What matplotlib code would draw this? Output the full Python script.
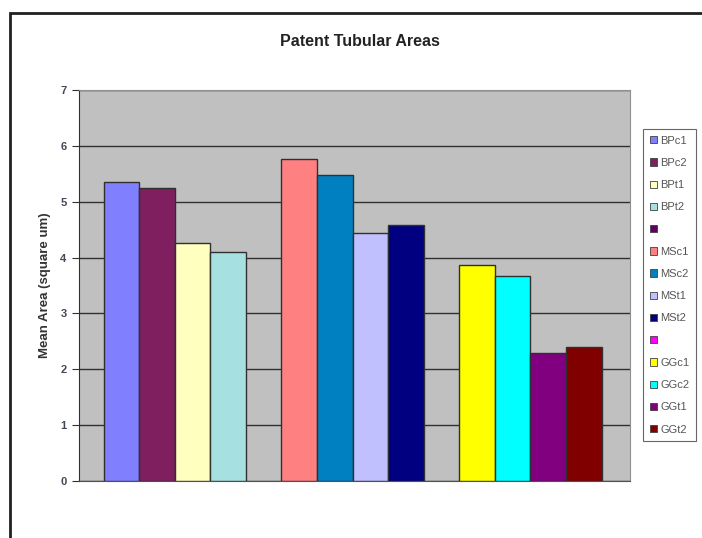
import numpy as np
import matplotlib.pyplot as plt
from matplotlib.patches import Rectangle

plt.rcParams['font.family'] = ['Liberation Sans', 'DejaVu Sans']

# series (one slot per legend entry, blanks are spacer series)
series = ['BPc1', 'BPc2', 'BPt1', 'BPt2', '',
          'MSc1', 'MSc2', 'MSt1', 'MSt2', '',
          'GGc1', 'GGc2', 'GGt1', 'GGt2']
values = [5.35, 5.25, 4.26, 4.10, 0,
          5.76, 5.48, 4.44, 4.58, 0,
          3.87, 3.67, 2.29, 2.40]
colors = ['#8080FF', '#7F1F5F', '#FFFFC0', '#A6E0E0', '#600060',
          '#FF8080', '#0080C0', '#C0C0FF', '#000080', '#FF00FF',
          '#FFFF00', '#00FFFF', '#800080', '#800000']

fig = plt.figure(figsize=(7.02, 5.38), dpi=100)
ax = fig.add_axes([79/702, 1-481/538, 551/702, 391/538])
ax.set_facecolor('#C0C0C0')

# chart border (cut off at right/bottom)
fig.patches.append(Rectangle((10/702, -0.1), 1.2, 1-13/538+0.1,
                             transform=fig.transFigure, fill=False,
                             edgecolor='#202020', linewidth=2))

x = np.arange(len(series))
handles = []
for i in range(len(series)):
    ax.bar(x[i], values[i], width=1.0, color=colors[i],
           edgecolor='#303030', linewidth=1.0 if values[i] > 0 else 0,
           zorder=3)
    handles.append(Rectangle((0, 0), 1, 1, facecolor=colors[i],
                             edgecolor='#404040', linewidth=0.6))

ax.set_xlim(-1.19, 14.3)
ax.set_ylim(0, 7)
ax.set_yticks(range(8))
ax.set_xticks([])
ax.yaxis.grid(True, color='#303030', linewidth=1.0, zorder=1)
ax.set_axisbelow(True)
ax.tick_params(axis='y', labelsize=8, length=5, colors='#303030',
               labelcolor='#404858', pad=4)
for t in ax.get_yticklabels():
    t.set_fontweight('bold')
for s in ax.spines.values():
    s.set_color('#909090')
ax.spines['left'].set_color('#303030')
ax.spines['bottom'].set_color('#505050')

ax.set_ylabel('Mean Area (square um)', fontsize=9.5, labelpad=7,
              fontweight='bold', color='#333333')

fig.text(360/702, 1-41/538, 'Patent Tubular Areas', ha='center',
         va='center', fontsize=11.5, fontweight='bold', color='#222222')

leg = fig.legend(handles, series, loc='upper left',
                 bbox_to_anchor=(643/702, 1-129/538), fontsize=8,
                 handlelength=0.65, handleheight=0.65, handletextpad=0.3,
                 labelspacing=1.1, borderpad=0.6, borderaxespad=0,
                 frameon=True, fancybox=False, edgecolor='#404040')
leg.get_frame().set_linewidth(0.8)
for t in leg.get_texts():
    t.set_color('#555555')

fig.savefig('out.png', dpi=100)
